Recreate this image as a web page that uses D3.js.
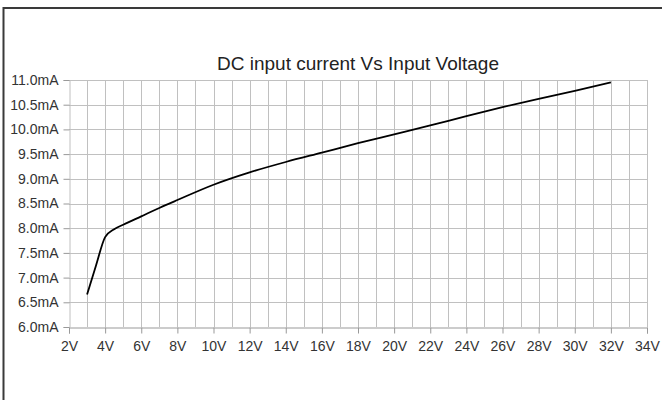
<!DOCTYPE html>
<html>
<head>
<meta charset="utf-8">
<script src="https://cdn.jsdelivr.net/npm/d3@7"></script>
<style>
body { margin: 0; background: #fff; }
svg { display: block; font-family: "Liberation Sans", Arial, sans-serif; }
</style>
</head>
<body>
<svg></svg>
<script>
let width = 662
let height = 400
let margin = {top: 80, right: 15, bottom: 73, left: 69}

let title = 'DC input current Vs Input Voltage'
let voltage = [3, 3.5, 4, 4.5, 5, 6, 7, 8, 10, 12, 14, 16, 18, 20, 22, 24, 26, 28, 30, 32]
let current = [6.66, 7.25, 7.82, 7.98, 8.07, 8.24, 8.41, 8.57, 8.88, 9.13, 9.34, 9.53, 9.72, 9.9, 10.08, 10.27, 10.45, 10.62, 10.78, 10.95]
let xTicks = d3.range(2, 35, 2)
let yTicks = d3.range(6, 11.01, 0.5)

let svg = d3.select('svg')
    .attr('width', width)
    .attr('height', height)

// frame (cropped on right and bottom)
svg.append('path')
    .attr('d', `M3.5,${height + 5} V8 H${width + 5}`)
    .attr('fill', 'none')
    .attr('stroke', '#3a3a3a')
    .attr('stroke-width', 2)

let x = d3.scaleLinear().domain([2, 34]).range([margin.left, width - margin.right])
let y = d3.scaleLinear().domain([6, 11]).range([height - margin.bottom, margin.top])

let grid = svg.append('g').attr('stroke', '#c0c0c0').attr('stroke-width', 1)
grid.selectAll('.v')
    .data(d3.range(3, 35, 1))
    .enter().append('line')
    .attr('x1', d => Math.round(x(d)) + 0.5)
    .attr('x2', d => Math.round(x(d)) + 0.5)
    .attr('y1', y(11))
    .attr('y2', y(6))
grid.selectAll('.h')
    .data(yTicks.slice(1))
    .enter().append('line')
    .attr('x1', x(2))
    .attr('x2', x(34))
    .attr('y1', d => Math.round(y(d)) + 0.5)
    .attr('y2', d => Math.round(y(d)) + 0.5)

let xAxis = svg.append('g')
    .attr('transform', `translate(0,${Math.round(y(6)) + 0.5})`)
    .call(d3.axisBottom(x).tickValues(xTicks).tickSize(6).tickPadding(8).tickFormat(d => d + 'V'))
xAxis.select('.domain').attr('stroke', '#999')
xAxis.selectAll('.tick line').attr('stroke', '#999')
xAxis.selectAll('text')
    .attr('fill', '#333')
    .style('font-size', '14px')

let yAxis = svg.append('g')
    .attr('transform', `translate(${Math.round(x(2)) + 0.5},0)`)
    .call(d3.axisLeft(y).tickValues(yTicks).tickSize(6).tickPadding(5).tickFormat(d => d3.format('.1f')(d) + 'mA'))
yAxis.select('.domain').attr('stroke', '#c0c0c0')
yAxis.selectAll('.tick line').attr('stroke', '#999')
yAxis.selectAll('text')
    .attr('fill', '#333')
    .style('font-size', '14px')

let line = d3.line()
    .x((d, i) => x(voltage[i]))
    .y(d => y(d))
    .curve(d3.curveMonotoneX)

svg.append('path')
    .datum(current)
    .attr('fill', 'none')
    .attr('stroke', '#000')
    .attr('stroke-width', 1.8)
    .attr('d', line)

svg.append('text')
    .attr('x', (x(2) + x(34)) / 2)
    .attr('y', 70)
    .attr('text-anchor', 'middle')
    .attr('fill', '#222')
    .style('font-size', '19px')
    .text(title)
</script>
</body>
</html>
